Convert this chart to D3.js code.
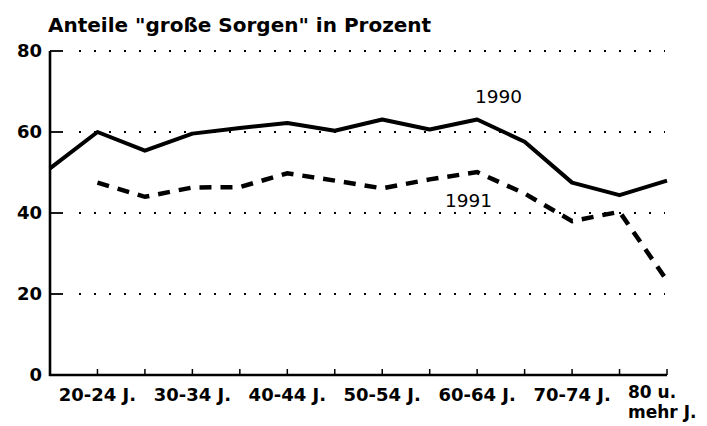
<!DOCTYPE html>
<html lang="de">
<head>
<meta charset="utf-8">
<script src="https://cdn.jsdelivr.net/npm/d3@7"></script>
<style>
  html, body { margin: 0; padding: 0; background: #fff; }
  svg { display: block; font-family: "DejaVu Sans", sans-serif; }
  .title { font-weight: bold; font-size: 20px; }
  .y-label, .x-label { font-weight: bold; font-size: 18px; }
  .series-label { font-size: 18.5px; }
</style>
</head>
<body>
<svg id="chart" width="707" height="426"></svg>
<script>
const title = "Anteile \"große Sorgen\" in Prozent";

const categories = [
  "15-19 J.", "20-24 J.", "25-29 J.", "30-34 J.", "35-39 J.", "40-44 J.", "45-49 J.",
  "50-54 J.", "55-59 J.", "60-64 J.", "65-69 J.", "70-74 J.", "75-79 J.", "80 u. mehr J.",
];
const labelledCategories = ["20-24 J.", "30-34 J.", "40-44 J.", "50-54 J.", "60-64 J.", "70-74 J.", "80 u. mehr J."];
const lastLabelLines = ["80 u.", "mehr J."];

const values1990 = [51, 60, 55.4, 59.6, 61, 62.2, 60.3, 63.1, 60.6, 63.1, 57.6, 47.5, 44.4, 48];
const values1991 = [null, 47.5, 44, 46.3, 46.4, 49.8, 48, 46.1, 48.3, 50.1, 44.8, 38, 40.3, 23.3];

const yTicks = [0, 20, 40, 60, 80];
const gridTicks = [20, 40, 60, 80];

document.addEventListener("DOMContentLoaded", () => {
  const svg = d3.select("#chart");

  const x = d3.scalePoint().domain(categories).range([50, 667]);
  const y = d3.scaleLinear().domain([0, 80]).range([375, 51]);
  const x0 = x(categories[0]);
  const x1 = x(categories[categories.length - 1]);

  svg.append("text")
    .attr("class", "title")
    .attr("x", 48)
    .attr("y", 32)
    .text(title);

  // grid: short solid tick, then dotted line
  const grid = svg.append("g");
  grid.selectAll("line.tick")
    .data(gridTicks)
    .join("line")
    .attr("class", "tick")
    .attr("x1", x0)
    .attr("x2", x0 + 13)
    .attr("y1", (d) => y(d))
    .attr("y2", (d) => y(d))
    .attr("stroke", "#000")
    .attr("stroke-width", 1.8);

  grid.selectAll("line.dots")
    .data(gridTicks)
    .join("line")
    .attr("class", "dots")
    .attr("x1", x0 + 29)
    .attr("x2", x1 - 2)
    .attr("y1", (d) => y(d))
    .attr("y2", (d) => y(d))
    .attr("stroke", "#000")
    .attr("stroke-width", 1.8)
    .attr("stroke-dasharray", "2,13");

  svg.append("g")
    .selectAll("text")
    .data(yTicks)
    .join("text")
    .attr("class", "y-label")
    .attr("x", 42)
    .attr("y", (d) => y(d))
    .attr("dy", "0.36em")
    .attr("text-anchor", "end")
    .text((d) => d);

  // axes
  svg.append("line")
    .attr("x1", x0).attr("x2", x0)
    .attr("y1", y(80)).attr("y2", y(0) + 1)
    .attr("stroke", "#000")
    .attr("stroke-width", 2.6);

  svg.append("line")
    .attr("x1", x0 - 1).attr("x2", x1)
    .attr("y1", y(0)).attr("y2", y(0))
    .attr("stroke", "#000")
    .attr("stroke-width", 2.6);

  svg.append("g")
    .selectAll("line")
    .data(categories.slice(1))
    .join("line")
    .attr("x1", (d) => x(d))
    .attr("x2", (d) => x(d))
    .attr("y1", y(0))
    .attr("y2", y(0) - 6)
    .attr("stroke", "#000")
    .attr("stroke-width", 1.5);

  const xLabels = svg.append("g");
  labelledCategories.forEach((cat) => {
    const last = cat === categories[categories.length - 1];
    if (last) {
      lastLabelLines.forEach((part, i) => {
        xLabels.append("text")
          .attr("class", "x-label")
          .attr("x", x(cat) - 39)
          .attr("y", 398 + i * 20)
          .style("font-size", "17px")
          .text(part);
      });
    } else {
      xLabels.append("text")
        .attr("class", "x-label")
        .attr("x", x(cat))
        .attr("y", 401)
        .attr("text-anchor", "middle")
        .text(cat);
    }
  });

  const line = d3.line()
    .defined((d) => d.value != null)
    .x((d) => x(d.cat))
    .y((d) => y(d.value));

  const series1990 = categories.map((cat, i) => ({ cat, value: values1990[i] }));
  const series1991 = categories.map((cat, i) => ({ cat, value: values1991[i] }));

  svg.append("path")
    .attr("d", line(series1990))
    .attr("fill", "none")
    .attr("stroke", "#000")
    .attr("stroke-width", 4)
    .attr("stroke-linejoin", "round");

  svg.append("path")
    .attr("d", line(series1991))
    .attr("fill", "none")
    .attr("stroke", "#000")
    .attr("stroke-width", 4.5)
    .attr("stroke-dasharray", "12,9");

  svg.append("text")
    .attr("class", "series-label")
    .attr("x", 475)
    .attr("y", 103)
    .text("1990");

  svg.append("text")
    .attr("class", "series-label")
    .attr("x", 445)
    .attr("y", 207)
    .text("1991");
});
</script>
</body>
</html>
